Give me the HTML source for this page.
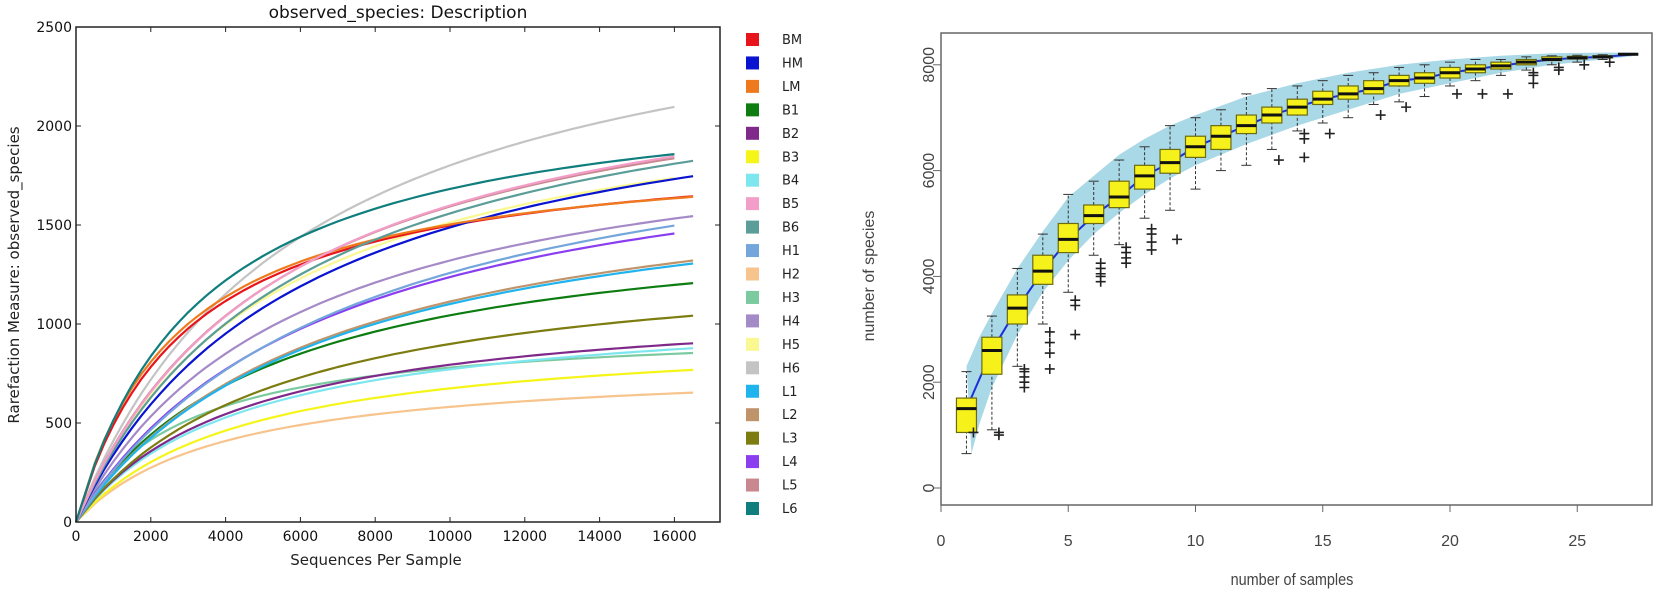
<!DOCTYPE html>
<html><head><meta charset="utf-8">
<style>
html,body{margin:0;padding:0;background:#fff;}
svg{display:block;}
text{font-family:"DejaVu Sans","Liberation Sans",sans-serif;}
</style></head>
<body>
<svg id="s" width="1658" height="599" viewBox="0 0 1658 599" xmlns="http://www.w3.org/2000/svg">
<rect width="1658" height="599" fill="#fff"/>
<g id="left"></g>
<g id="right"></g>
<text x="398" y="18" font-size="17" text-anchor="middle" fill="#111">observed_species: Description</text>
<text x="376" y="565" font-size="15" text-anchor="middle" fill="#222">Sequences Per Sample</text>
<text transform="translate(19,275) rotate(-90)" font-size="15" text-anchor="middle" fill="#222">Rarefaction Measure: observed_species</text>
<text transform="translate(874,276) rotate(-90)" font-size="16" text-anchor="middle" fill="#444" style="font-family:'Liberation Sans',sans-serif">number of species</text>
<text x="1292" y="585" font-size="17" text-anchor="middle" fill="#444" style="font-family:'Liberation Sans',sans-serif" transform="translate(1292,0) scale(0.85,1) translate(-1292,0)">number of samples</text>
</svg>
<script>
var NS="http://www.w3.org/2000/svg";
function el(p,t,a,txt){var e=document.createElementNS(NS,t);for(var k in a)e.setAttribute(k,a[k]);if(txt!==undefined)e.textContent=txt;p.appendChild(e);return e;}
var L=document.getElementById("left"),R=document.getElementById("right");
var x0=76,yb=522,yt=27,xr=720;
function X(v){return x0+v*0.0374;} function Y(v){return yb-v*0.198;}
var S=[
["BM","#e8141b",1300,1648,16700],
["HM","#0a14d0",1190,1752,16700],
["LM","#ef7a1e",1315,1645,16700],
["B1","#0d7d12",850,1210,16700],
["B2","#7f2a8a",660,905,16700],
["B3","#f5f51a",560,770,16700],
["B4","#7de6ee",640,880,16700],
["B5","#f29ec8",1290,1850,16100],
["B6","#5b9d98",1250,1830,16700],
["H1","#74a6dc",980,1500,16100],
["H2","#f6c48c",490,655,16700],
["H3","#7ccaa0",680,855,16700],
["H4","#a58ac8",1060,1550,16700],
["H5","#faf890",1230,1740,16100],
["H6","#c4c4c4",1440,2100,16100],
["L1","#1fb4ee",870,1310,16700],
["L2","#c0946a",880,1325,16700],
["L3","#7c7c10",730,1045,16700],
["L4","#8a3ef0",975,1460,16100],
["L5","#c98890",1290,1840,16100],
["L6","#117e7e",1440,1860,16100]];
var order=[14,10,5,11,6,4,17,3,16,15,18,9,12,13,0,1,2,8,19,7,20];
order.forEach(function(i){var s=S[i];var r=s[3]/s[2];var xe=s[4];
 var K=(xe*6000-r*6000*xe)/(r*6000-xe);var V=s[2]*(K+6000)/6000;
 if(!(K>0)){K=8000;V=s[3]*(K+xe)/xe;}
 var d="M"+X(0)+","+Y(0);
 for(var x=500;x<=xe;x+=250){var v=V*x/(K+x);
   if(s[0]=="LM"||s[0]=="BM"){v=Math.min(v,s[3]);}
   d+=" L"+X(x).toFixed(1)+","+Y(v).toFixed(1);}
 el(L,"path",{d:d,fill:"none",stroke:s[1],"stroke-width":2.2,"stroke-linejoin":"round"});
});
el(L,"rect",{x:x0,y:yt,width:xr-x0,height:yb-yt,fill:"none",stroke:"#222","stroke-width":1.5});
for(var v=0;v<=16000;v+=2000){var x=X(v);el(L,"line",{x1:x,x2:x,y1:yb,y2:yb-5,stroke:"#222"});el(L,"line",{x1:x,x2:x,y1:yt,y2:yt+5,stroke:"#222"});
 el(L,"text",{x:x,y:541,"font-size":14,"text-anchor":"middle",fill:"#111"},String(v));}
for(var v=0;v<=2500;v+=500){var y=Y(v);el(L,"line",{x1:x0,x2:x0+5,y1:y,y2:y,stroke:"#222"});el(L,"line",{x1:xr,x2:xr-5,y1:y,y2:y,stroke:"#222"});
 el(L,"text",{x:x0-4,y:y+5,"font-size":14,"text-anchor":"end",fill:"#111"},String(v));}
S.forEach(function(s,i){var y=39+i*23.45;el(L,"rect",{x:746,y:y-6,width:13,height:13,fill:s[1]});
 el(L,"text",{x:782,y:y+5,"font-size":13,fill:"#222"},s[0]);});
var rx0=941,ry0=488;
function RX(v){return rx0+v*25.45;} function RY(v){return ry0-v*0.0529;}
var up=[[1,2300],[1.5,2850],[2,3300],[3,4150],[4,4850],[5,5500],[6,5900],[7,6300],[8,6600],[9,6850],[10,7050],[12,7400],[14,7650],[16,7850],[18,8000],[20,8100],[22,8170],[24,8220],[26,8230],[27.3,8230]];
var lo=[[1.2,650],[1.5,1200],[2,1900],[3,2900],[4,3700],[5,4300],[6,4800],[7,5200],[8,5550],[9,5850],[10,6100],[12,6500],[14,6850],[16,7150],[18,7450],[20,7650],[22,7850],[24,8000],[26,8100],[27.3,8170]];
var d="M"+up.map(function(p){return RX(p[0]).toFixed(1)+","+RY(p[1]).toFixed(1);}).join(" L");
d+=" L"+lo.slice().reverse().map(function(p){return RX(p[0]).toFixed(1)+","+RY(p[1]).toFixed(1);}).join(" L")+" Z";
el(R,"path",{d:d,fill:"#a9d8e6",stroke:"none"});
var B=[[1,1500,1050,1700,650,2200,[1050]],[2,2600,2150,2850,1100,3250,[1000,1050]],[3,3400,3100,3650,2300,4150,[1900,2000,2100,2200,2250]],
[4,4100,3850,4400,3100,4800,[2250,2550,2750,2950]],[5,4700,4450,5000,3700,5550,[2900,3450,3550]],[6,5150,5000,5350,4400,5800,[3900,4000,4050,4150,4250]],
[7,5500,5300,5800,4600,6200,[4250,4350,4450,4550]],[8,5900,5650,6100,5100,6450,[4500,4650,4800,4900]],[9,6150,5950,6400,5250,6850,[4700]],
[10,6450,6250,6650,5650,7000,[]],[11,6650,6400,6850,6000,7150,[]],[12,6850,6700,7050,6100,7450,[]],[13,7050,6900,7200,6400,7550,[6200]],
[14,7200,7050,7350,6750,7600,[6250,6600,6700]],[15,7350,7250,7500,6900,7700,[6700]],[16,7450,7350,7600,7000,7800,[]],[17,7550,7450,7700,7250,7850,[7050]],
[18,7700,7600,7800,7300,7950,[7200]],[19,7750,7650,7850,7400,8000,[]],[20,7850,7750,7950,7600,8050,[7450]],[21,7920,7850,8000,7700,8100,[7450]],
[22,7980,7920,8050,7800,8100,[7450]],[23,8050,8000,8100,7900,8150,[7650,7800,7850]],[24,8100,8080,8150,8000,8170,[7900,7950]],[25,8130,8110,8160,8050,8180,[8000]],[26,8150,8140,8170,8100,8190,[8050]]];
var md="M"+B.map(function(b){return RX(b[0]).toFixed(1)+","+RY(b[1]).toFixed(1);}).join(" L")+" L"+RX(27.3)+","+RY(8200);
el(R,"path",{d:md,fill:"none",stroke:"#1d2fd6","stroke-width":2});
B.forEach(function(b){var cx=RX(b[0]),w=10;
 el(R,"line",{x1:cx,x2:cx,y1:RY(b[4]),y2:RY(b[2]),stroke:"#333","stroke-dasharray":"3,2","stroke-width":1});
 el(R,"line",{x1:cx,x2:cx,y1:RY(b[3]),y2:RY(b[5]),stroke:"#333","stroke-dasharray":"3,2","stroke-width":1});
 el(R,"line",{x1:cx-5,x2:cx+5,y1:RY(b[4]),y2:RY(b[4]),stroke:"#333"});
 el(R,"line",{x1:cx-5,x2:cx+5,y1:RY(b[5]),y2:RY(b[5]),stroke:"#333"});
 el(R,"rect",{x:cx-w,y:RY(b[3]),width:2*w,height:Math.max(2,RY(b[2])-RY(b[3])),fill:"#f7f11b",stroke:"#6b6b10","stroke-width":1.2});
 el(R,"line",{x1:cx-w,x2:cx+w,y1:RY(b[1]),y2:RY(b[1]),stroke:"#111","stroke-width":3});
 b[6].forEach(function(o){var y=RY(o);el(R,"path",{d:"M"+(cx+2)+","+y+" h10 M"+(cx+7)+","+(y-5)+" v10",stroke:"#222","stroke-width":1.6,fill:"none"});});
});
el(R,"line",{x1:RX(26.6),x2:RX(27.4),y1:RY(8200),y2:RY(8200),stroke:"#111","stroke-width":3});
el(R,"rect",{x:rx0,y:33,width:1652-rx0,height:505-33,fill:"none",stroke:"#666","stroke-width":1.5});
for(var v=0;v<=25;v+=5){var x=RX(v);el(R,"line",{x1:x,x2:x,y1:505,y2:512,stroke:"#666"});
 el(R,"text",{x:x,y:546,"font-size":16,"text-anchor":"middle",fill:"#444",style:"font-family:'Liberation Sans',sans-serif"},String(v));}
for(var v=0;v<=8000;v+=2000){var y=RY(v);el(R,"line",{x1:rx0,x2:rx0-8,y1:y,y2:y,stroke:"#666"});
 el(R,"text",{transform:"translate(934,"+y+") rotate(-90)","font-size":16,"text-anchor":"middle",fill:"#444",style:"font-family:'Liberation Sans',sans-serif"},String(v));}
</script>
</body></html>
